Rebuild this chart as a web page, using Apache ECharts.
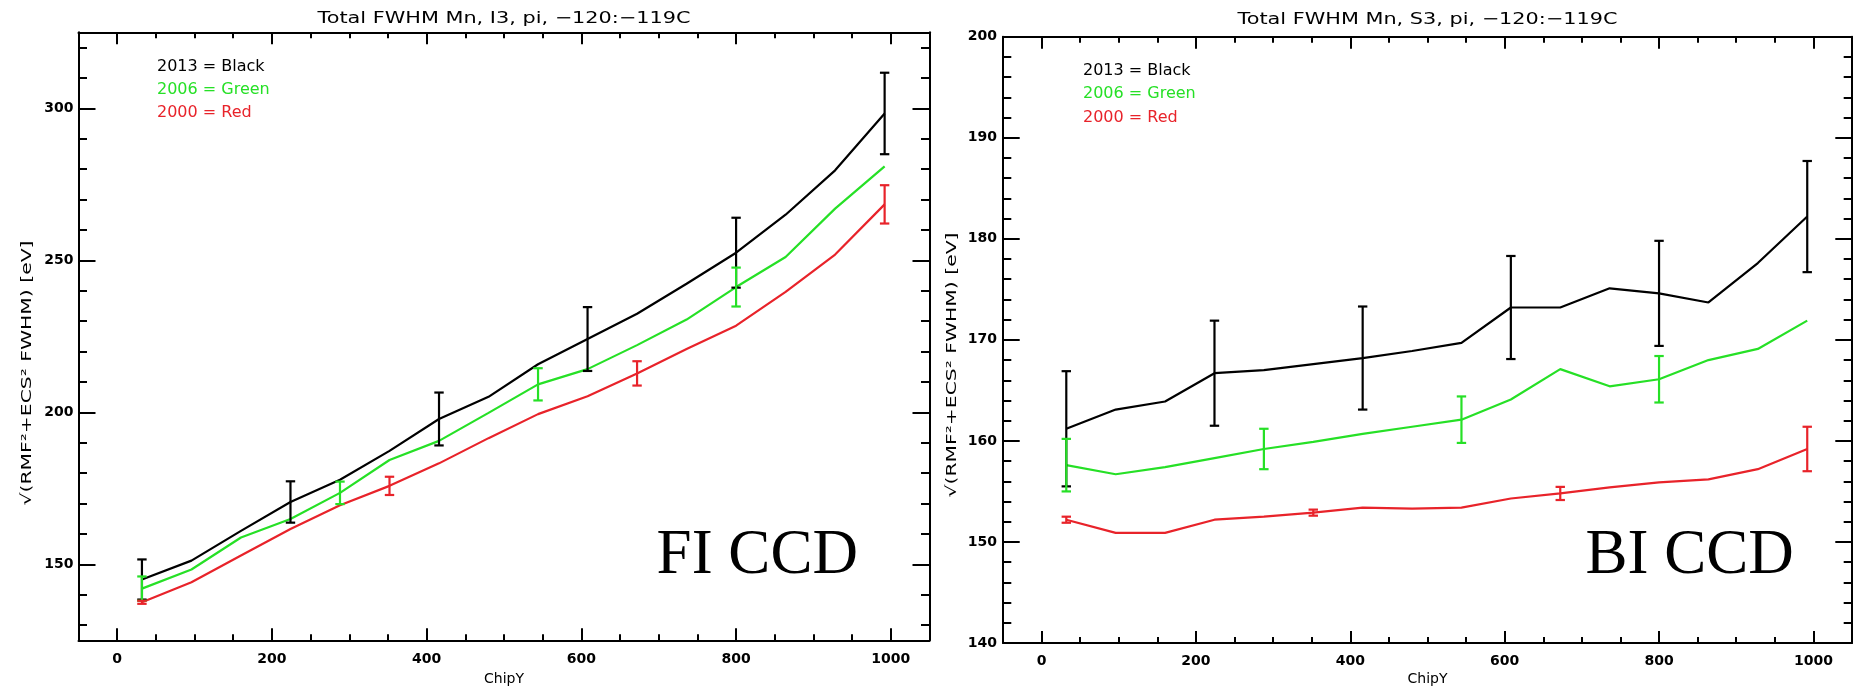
<!DOCTYPE html>
<html>
<head>
<meta charset="utf-8">
<script src="https://cdn.jsdelivr.net/npm/echarts@6/dist/echarts.min.js"></script>
<style>
html, body { margin: 0; padding: 0; background: #ffffff; }
#chart { width: 1854px; height: 691px; }
</style>
</head>
<body>
<div id="chart"></div>
<script>
// ---------- data ----------
const chipY = [32, 96, 160, 224, 288, 352, 416, 480, 544, 608, 672, 736, 800, 864, 928, 992];

// FI CCD (I3)
const fiBlack = [145.0, 151.2, 161.0, 170.5, 177.8, 187.3, 197.8, 205.1, 215.8, 224.1, 232.4, 242.3, 252.5, 265.0, 279.6, 298.3];
const fiGreen = [142.0, 148.3, 158.8, 164.9, 173.5, 184.3, 190.6, 199.8, 209.2, 214.2, 222.1, 230.5, 241.2, 251.1, 267.0, 280.9];
const fiRed   = [137.5, 144.1, 152.9, 161.6, 169.4, 175.8, 183.2, 191.5, 199.4, 205.3, 212.8, 220.8, 228.5, 239.6, 251.9, 268.4];
// error bars: [chipY, half-width]
const fiBlackErr = [[32, 6.6], [224, 6.8], [416, 8.7], [608, 10.5], [800, 11.5], [992, 13.4]];
const fiGreenErr = [[32, 4.0], [288, 3.7], [544, 5.3], [800, 6.4]];
const fiRedErr   = [[32, 0.5], [352, 3.0], [672, 4.0], [992, 6.3]];

// BI CCD (S3)
const biBlack = [161.2, 163.1, 163.9, 166.7, 167.0, 167.6, 168.2, 168.9, 169.7, 173.2, 173.2, 175.1, 174.6, 173.7, 177.6, 182.2];
const biGreen = [157.6, 156.7, 157.4, 158.3, 159.2, 159.9, 160.7, 161.4, 162.1, 164.1, 167.1, 165.4, 166.1, 168.0, 169.1, 171.9];
const biRed   = [152.2, 150.9, 150.9, 152.2, 152.5, 152.9, 153.4, 153.3, 153.4, 154.3, 154.8, 155.4, 155.9, 156.2, 157.2, 159.2];
const biBlackErr = [[32, 5.7], [224, 5.2], [416, 5.1], [608, 5.1], [800, 5.2], [992, 5.5]];
const biGreenErr = [[32, 2.6], [288, 2.0], [544, 2.3], [800, 2.3]];
const biRedErr   = [[32, 0.3], [352, 0.3], [672, 0.65], [992, 2.2]];

// ticks
const xMajor = [0, 200, 400, 600, 800, 1000];
const xMinor = [50, 100, 150, 250, 300, 350, 450, 500, 550, 650, 700, 750, 850, 900, 950];
const fiYMajor = [150, 200, 250, 300];
const fiYMinor = [130, 140, 160, 170, 180, 190, 210, 220, 230, 240, 260, 270, 280, 290, 310, 320];
const biYMajor = [140, 150, 160, 170, 180, 190, 200];
const biYMinor = [142, 144, 146, 148, 152, 154, 156, 158, 162, 164, 166, 168, 172, 174, 176, 178, 182, 184, 186, 188, 192, 194, 196, 198];

// texts
const titles = ['Total FWHM Mn, I3, pi, \u2212120:\u2212119C', 'Total FWHM Mn, S3, pi, \u2212120:\u2212119C'];
const legendTexts = ['2013 = Black', '2006 = Green', '2000 = Red'];
const yLabel = '\u221A(RMF\u00B2+ECS\u00B2 FWHM) [eV]';
const xLabel = 'ChipY';
const panelTags = ['FI CCD', 'BI CCD'];

const BLACK = '#000000', GREEN = '#26e026', RED = '#e8232a';
const seriesColors = [BLACK, GREEN, RED];

// ---------- layout ----------
const grids = [
  { left: 78.5, top: 32.3, width: 851, height: 608 },
  { left: 1003, top: 36.7, width: 849, height: 606.3 }
];
const yRanges = [[125, 325], [140, 200]];
const yMaj = [fiYMajor, biYMajor];
const yMin = [fiYMinor, biYMinor];

const labelFont = { color: '#000', fontFamily: 'DejaVu Sans', fontWeight: 'bold', fontSize: 14, formatter: v => String(v) };

const xAxes = [], yAxes = [];
function xAx(g, pos, ticks, len, withLabels, withLine) {
  xAxes.push({
    type: 'value', gridIndex: g, position: pos, min: -50, max: 1050,
    axisLine: { show: withLine, onZero: false, lineStyle: { color: '#000', width: 2 } },
    axisTick: { show: true, inside: true, length: len, customValues: ticks, lineStyle: { color: '#000', width: 2 } },
    axisLabel: withLabels ? Object.assign({ show: true, customValues: ticks, margin: g === 0 ? 12 : 11 }, labelFont) : { show: false },
    splitLine: { show: false }
  });
  return xAxes.length - 1;
}
function yAx(g, pos, ticks, len, withLabels, withLine) {
  yAxes.push({
    type: 'value', gridIndex: g, position: pos, min: yRanges[g][0], max: yRanges[g][1],
    axisLine: { show: withLine, onZero: false, lineStyle: { color: '#000', width: 2 } },
    axisTick: { show: true, inside: true, length: len, customValues: ticks, lineStyle: { color: '#000', width: 2 } },
    axisLabel: withLabels ? Object.assign({ show: true, customValues: ticks, margin: g === 0 ? 5 : 6 }, labelFont) : { show: false },
    splitLine: { show: false }
  });
  return yAxes.length - 1;
}

const mainX = [], mainY = [];
for (let g = 0; g < 2; g++) {
  const yMajLen = g === 0 ? 17 : 16.7, yMinLen = g === 0 ? 8.5 : 8.3;
  mainX.push(xAx(g, 'bottom', xMajor, 12, true, true));
  xAx(g, 'bottom', xMinor, 6, false, false);
  xAx(g, 'top', xMajor, 12, false, true);
  xAx(g, 'top', xMinor, 6, false, false);
  mainY.push(yAx(g, 'left', yMaj[g], yMajLen, true, true));
  yAx(g, 'left', yMin[g], yMinLen, false, false);
  yAx(g, 'right', yMaj[g], yMajLen, false, true);
  yAx(g, 'right', yMin[g], yMinLen, false, false);
}

// ---------- series ----------
const series = [];
function lineSeries(g, vals, color) {
  series.push({
    type: 'line', xAxisIndex: mainX[g], yAxisIndex: mainY[g],
    data: chipY.map((x, i) => [x, vals[i]]),
    showSymbol: false, symbol: 'none', animation: false,
    lineStyle: { color: color, width: 2.2 }, z: 3
  });
}
function errSeries(g, vals, errs, color) {
  series.push({
    type: 'custom', xAxisIndex: mainX[g], yAxisIndex: mainY[g],
    data: errs.map(e => { const c = vals[chipY.indexOf(e[0])]; return [e[0], c - e[1], c + e[1]]; }),
    encode: { x: 0, y: [1, 2] }, animation: false, z: 4,
    renderItem: function (params, api) {
      const x = api.value(0);
      const lo = api.coord([x, api.value(1)]);
      const hi = api.coord([x, api.value(2)]);
      const cw = 4.7;
      const st = { stroke: color, lineWidth: 2.2 };
      return { type: 'group', children: [
        { type: 'line', shape: { x1: lo[0], y1: lo[1], x2: hi[0], y2: hi[1] }, style: st },
        { type: 'line', shape: { x1: lo[0] - cw, y1: lo[1], x2: lo[0] + cw, y2: lo[1] }, style: st },
        { type: 'line', shape: { x1: hi[0] - cw, y1: hi[1], x2: hi[0] + cw, y2: hi[1] }, style: st }
      ] };
    }
  });
}
lineSeries(0, fiBlack, BLACK); lineSeries(0, fiGreen, GREEN); lineSeries(0, fiRed, RED);
errSeries(0, fiBlack, fiBlackErr, BLACK); errSeries(0, fiGreen, fiGreenErr, GREEN); errSeries(0, fiRed, fiRedErr, RED);
lineSeries(1, biBlack, BLACK); lineSeries(1, biGreen, GREEN); lineSeries(1, biRed, RED);
errSeries(1, biBlack, biBlackErr, BLACK); errSeries(1, biGreen, biGreenErr, GREEN); errSeries(1, biRed, biRedErr, RED);

// ---------- text ----------
function txt(o) {
  return {
    type: 'text', x: o.x, y: o.y, rotation: o.rot || 0, scaleX: o.sx || 1, scaleY: 1, z: 10,
    style: {
      text: o.text, fill: o.color || '#000',
      font: o.font,
      align: o.align || 'left', verticalAlign: 'middle',
      textAlign: o.align || 'left', textVerticalAlign: 'middle'
    }
  };
}
const graphics = [];
const titleX = [504, 1427.5], titleY = [19, 20];
const legX = [157, 1083], legY0 = [66.7, 71];
const yLabX = [27, 952], yLabY = [373, 365];
const tagX = [656.6, 1585.5];
for (let g = 0; g < 2; g++) {
  graphics.push(txt({ text: titles[g], x: titleX[g], y: titleY[g], align: 'center', font: '16px "DejaVu Sans"', sx: 1.3 }));
  for (let k = 0; k < 3; k++) {
    graphics.push(txt({ text: legendTexts[k], x: legX[g], y: legY0[g] + 23.3 * k, color: seriesColors[k], font: '16px "DejaVu Sans"' }));
  }
  graphics.push(txt({ text: yLabel, x: yLabX[g], y: yLabY[g], align: 'center', rot: Math.PI / 2, font: '14px "DejaVu Sans"', sx: 1.45 }));
  graphics.push(txt({ text: xLabel, x: grids[g].left + grids[g].width / 2, y: 679, align: 'center', font: '14px "DejaVu Sans"' }));
  graphics.push({
    type: 'text', x: tagX[g], y: 588, z: 10,
    style: { text: panelTags[g], fill: '#000', font: '63px "Liberation Serif"', align: 'left', verticalAlign: 'alphabetic', textAlign: 'left', textVerticalAlign: 'bottom' }
  });
}

const chart = echarts.init(document.getElementById('chart'), null, { renderer: 'canvas' });
chart.setOption({
  backgroundColor: '#ffffff',
  animation: false,
  grid: grids,
  xAxis: xAxes,
  yAxis: yAxes,
  series: series,
  graphic: graphics
});
</script>
</body>
</html>
